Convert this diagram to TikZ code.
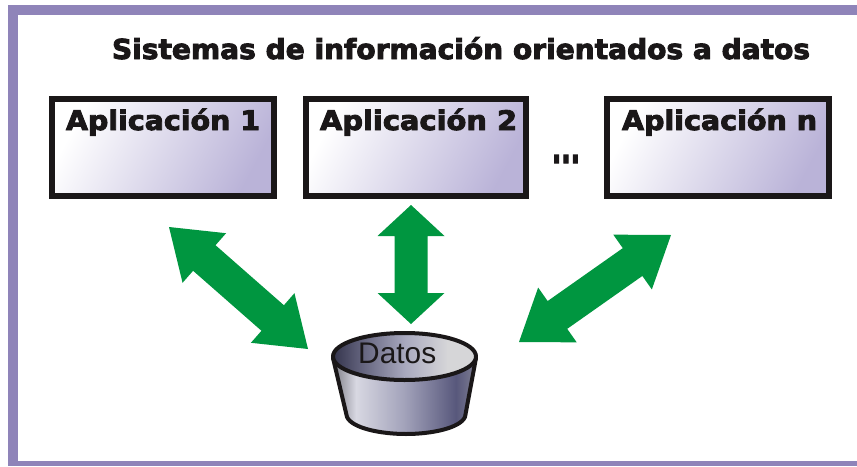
\documentclass[tikz,border=0pt]{standalone}
\usepackage{graphicx}
\usepackage{fontspec}
\setmainfont[BoldFeatures={FakeBold=3.2}]{DejaVu Sans}
\newfontfamily\datosfont{Liberation Sans}
\usetikzlibrary{calc}
\definecolor{framec}{HTML}{8F84B9}
\definecolor{inkc}{HTML}{1A1718}
\definecolor{greenc}{HTML}{009640}
\definecolor{boxend}{HTML}{BAB3D8}
\definecolor{bodya}{HTML}{7C7C84}
\definecolor{bodyb}{HTML}{D8D8E2}
\definecolor{bodyc}{HTML}{A2A2BA}
\definecolor{bodyd}{HTML}{58587C}
\definecolor{bodye}{HTML}{7E7E92}
\definecolor{rima}{HTML}{34344C}
\definecolor{rimb}{HTML}{5A5A74}
\definecolor{rimc}{HTML}{A8A8BE}
\definecolor{rimd}{HTML}{D6D6D8}
\pgfdeclarehorizontalshading{bodyshade}{100bp}{
  color(0bp)=(bodya);
  color(25bp)=(bodya);
  color(33bp)=(bodyb);
  color(50bp)=(bodyc);
  color(68bp)=(bodyd);
  color(75bp)=(bodye);
  color(100bp)=(bodye)}
\pgfdeclarehorizontalshading{rimshade}{100bp}{
  color(0bp)=(rima);
  color(25bp)=(rima);
  color(33bp)=(rimb);
  color(50bp)=(rimc);
  color(65bp)=(rimd);
  color(75bp)=(rimd);
  color(100bp)=(rimd)}
\newcommand{\fitbox}[3]{\resizebox{#1pt}{#2pt}{\bfseries #3}}
\newcommand{\blockarrow}[5]{%
  \fill[arrowfill]
    (#1)
    -- ($($(#1)!#3pt!(#2)$)!#4pt!90:(#2)$)
    -- ($($(#1)!#3pt!(#2)$)!#5pt!90:(#2)$)
    -- ($($(#2)!#3pt!(#1)$)!#5pt!-90:(#1)$)
    -- ($($(#2)!#3pt!(#1)$)!#4pt!-90:(#1)$)
    -- (#2)
    -- ($($(#2)!#3pt!(#1)$)!#4pt!90:(#1)$)
    -- ($($(#2)!#3pt!(#1)$)!#5pt!90:(#1)$)
    -- ($($(#1)!#3pt!(#2)$)!#5pt!-90:(#2)$)
    -- ($($(#1)!#3pt!(#2)$)!#4pt!-90:(#2)$)
    -- cycle;}
\tikzset{
  appbox/.style={draw=inkc, line width=6pt, minimum width=222pt, minimum height=97pt,
    anchor=north west, inner sep=0pt, shading=axis, left color=white, right color=boxend, shading angle=62},
  applabel/.style={anchor=base west, inner sep=0pt, outer sep=0pt, text=inkc},
  arrowfill/.style={fill=greenc},
  bucketline/.style={draw=inkc, line width=4pt, line join=round},
}
\begin{document}
\begin{tikzpicture}[x=1pt,y=-1pt]
\useasboundingbox (0,0) rectangle (857,466);
\fill[white] (0,0) rectangle (857,466);
% frame
\fill[framec] (8,5) rectangle (857,14.5);
\fill[framec] (8,5) rectangle (17.5,466);
\fill[framec] (8,461) rectangle (857,466);
% title
\node[applabel] (title) at (112,59) {\fitbox{698}{22}{Sistemas de información orientados a datos}};
% application boxes
\node[appbox] (app1) at (49,96) {};
\node[appbox, minimum width=220pt] (app2) at (303,96) {};
\node[appbox] (appn) at (604,96) {};
\node[applabel] (l1) at (66,130) {\fitbox{194}{21.5}{Aplicación 1}};
\node[applabel] (l2) at (320,130) {\fitbox{197}{21.5}{Aplicación 2}};
\node[applabel] (ln) at (622,130) {\fitbox{195}{21.5}{Aplicación n}};
\node[applabel] (dots) at (552,163) {\fitbox{28}{8}{...}};
% arrows
\coordinate (a1s) at (169,227);
\coordinate (a1e) at (308,349);
\coordinate (a2s) at (411,205);
\coordinate (a2e) at (411,324);
\coordinate (a3s) at (671,235);
\coordinate (a3e) at (519,342);
\blockarrow{a1s}{a1e}{47}{33}{17}
\blockarrow{a2s}{a2e}{31}{33.5}{16.5}
\blockarrow{a3s}{a3e}{47}{33.5}{17}
% bucket
\path[bucketline, shading=bodyshade]
  (333,358) -- (347,417)
  .. controls (352,428) and (380,434) .. (406,434)
  .. controls (432,434) and (460,428) .. (465,417)
  -- (476,358) -- cycle;
\path[bucketline, shading=rimshade] (404.5,356.5) ellipse [x radius=71.5pt, y radius=23.5pt];
\node[anchor=base west, inner sep=0pt, text=inkc] (datos) at (358,363)
  {\resizebox{78pt}{20.5pt}{\datosfont Datos}};
\end{tikzpicture}
\end{document}
